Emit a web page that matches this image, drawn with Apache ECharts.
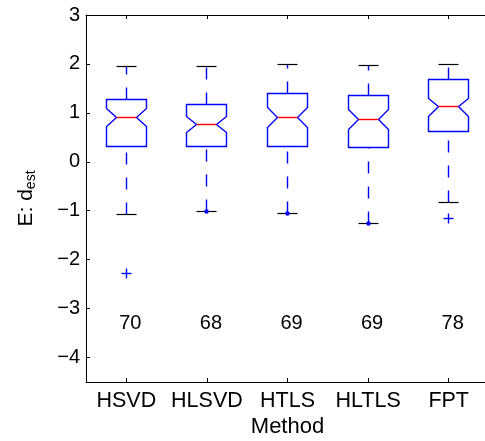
<!DOCTYPE html>
<html><head><meta charset="utf-8">
<script src="https://cdn.jsdelivr.net/npm/echarts@6/dist/echarts.min.js"></script>
<style>html,body{margin:0;padding:0;background:#fff}#c{width:485px;height:441px}</style>
</head><body><div id="c"></div>
<script>
const methods = ['HSVD', 'HLSVD', 'HTLS', 'HLTLS', 'FPT'];
const whiskerLow = [-1.067, -1.014, -1.048, -1.265, -0.837];
const q1 = [0.306, 0.306, 0.306, 0.300, 0.612];
const notchLow = [0.72, 0.606, 0.70, 0.66, 0.932];
const median = [0.90, 0.77, 0.905, 0.864, 1.122];
const notchHigh = [1.08, 0.925, 1.108, 1.067, 1.30];
const q3 = [1.28, 1.18, 1.394, 1.353, 1.68];
const whiskerHigh = [1.945, 1.945, 1.986, 1.96, 1.986];
const plusOutliers = [[0, -2.29], [4, -1.163]];
const dotOutliers = [[1, -1.014], [2, -1.048], [3, -1.265]];
const counts = [70, 68, 69, 69, 78];
const countY = -3.28;
const yMin = -4.5, yMax = 3;

const FONT = "'Liberation Sans', Arial, Helvetica, sans-serif";
const BLUE = '#0000ff';
const LW = 1.4;

const boxData = methods.map((m, i) => [i, whiskerLow[i], q1[i], notchLow[i], median[i], notchHigh[i], q3[i], whiskerHigh[i]]);
const outlierData = plusOutliers.map(p => [p[0], p[1], 0]).concat(dotOutliers.map(p => [p[0], p[1], 1]));
const countData = counts.map((c, i) => [i, countY, c]);

const sn = v => Math.round(v - 0.5) + 0.5;

function renderBox(params, api) {
  const i = api.value(0);
  const band = api.size([1, 0])[0];
  const cx = sn(api.coord([i, 0])[0]);
  const y = k => sn(api.coord([i, api.value(k)])[1]);
  const yWL = y(1), yQ1 = y(2), yNL = y(3), yMed = y(4), yNH = y(5), yQ3 = y(6), yWH = y(7);
  const hw = Math.round(band * 0.25), nw = Math.round(band * 0.125);
  const L = cx - hw, R = cx + hw, Li = cx - nw, Ri = cx + nw;
  const dash = {stroke: BLUE, lineWidth: LW, lineDash: [12, 13], fill: null};
  return {type: 'group', children: [
    {type: 'line', shape: {x1: cx, y1: yWL, x2: cx, y2: yQ1}, style: dash},
    {type: 'line', shape: {x1: cx, y1: yQ3, x2: cx, y2: yWH}, style: dash},
    {type: 'line', shape: {x1: cx - nw, y1: yWL, x2: cx + nw, y2: yWL}, style: {stroke: '#000', lineWidth: 1.2}},
    {type: 'line', shape: {x1: cx - nw, y1: yWH, x2: cx + nw, y2: yWH}, style: {stroke: '#000', lineWidth: 1.2}},
    {type: 'polygon', shape: {points: [[L, yQ1], [L, yNL], [Li, yMed], [L, yNH], [L, yQ3], [R, yQ3], [R, yNH], [Ri, yMed], [R, yNL], [R, yQ1]]},
      style: {fill: null, stroke: BLUE, lineWidth: LW}},
    {type: 'line', shape: {x1: Li, y1: yMed, x2: Ri, y2: yMed}, style: {stroke: '#ff0000', lineWidth: LW}}
  ]};
}

function renderOutlier(params, api) {
  const p = api.coord([api.value(0), api.value(1)]);
  const x = sn(p[0]), yy = sn(p[1]);
  if (api.value(2) === 0) {
    const s = 5;
    return {type: 'group', children: [
      {type: 'line', shape: {x1: x - s, y1: yy, x2: x + s, y2: yy}, style: {stroke: BLUE, lineWidth: LW}},
      {type: 'line', shape: {x1: x, y1: yy - s, x2: x, y2: yy + s}, style: {stroke: BLUE, lineWidth: LW}}
    ]};
  }
  return {type: 'circle', shape: {cx: x, cy: yy, r: 2.2}, style: {fill: BLUE}};
}

const chart = echarts.init(document.getElementById('c'), null, {renderer: 'canvas'});
const axisLineStyle = {color: '#000', width: 1};
chart.setOption({
  animation: false,
  backgroundColor: '#fff',
  grid: {left: 86, top: 15, width: 403, height: 367, show: false, containLabel: false, outerBoundsMode: 'none'},
  xAxis: [{
    type: 'category', data: methods, position: 'bottom', boundaryGap: true,
    axisLine: {show: true, onZero: false, lineStyle: axisLineStyle},
    axisTick: {show: true, inside: true, length: 4, alignWithLabel: true, lineStyle: axisLineStyle},
    axisLabel: {show: true, color: '#000', fontSize: 21.5, fontFamily: FONT, margin: 8, interval: 0},
    splitLine: {show: false},
    name: 'Method', nameLocation: 'middle', nameGap: 34, nameMoveOverlap: false,
    nameTextStyle: {color: '#000', fontSize: 22, fontFamily: FONT}
  }, {
    type: 'category', data: methods, position: 'top', boundaryGap: true,
    axisLine: {show: true, onZero: false, lineStyle: axisLineStyle},
    axisTick: {show: true, inside: true, length: 4, alignWithLabel: true, lineStyle: axisLineStyle},
    axisLabel: {show: false}, splitLine: {show: false}
  }],
  yAxis: [{
    type: 'value', min: yMin, max: yMax, splitNumber: 8, minInterval: 1, maxInterval: 1,
    axisLine: {show: true, onZero: false, lineStyle: axisLineStyle},
    axisTick: {show: true, inside: true, length: 4, lineStyle: axisLineStyle},
    axisLabel: {color: '#000', fontSize: 20, fontFamily: FONT, margin: 6,
      formatter: v => Number.isInteger(v) ? String(v).replace('-', '\u2212') : ''},
    splitLine: {show: false},
    name: '{a|E: d}{s|est}', nameLocation: 'middle', nameGap: 48, nameMoveOverlap: false,
    nameTextStyle: {color: '#000', fontFamily: FONT,
      rich: {
        a: {fontSize: 21, fontFamily: FONT, color: '#000', verticalAlign: 'top', lineHeight: 22},
        s: {fontSize: 14, fontFamily: FONT, color: '#000', verticalAlign: 'bottom', lineHeight: 14, padding: [12, 0, 0, 0]}
      }}
  }, {
    type: 'value', position: 'right', min: yMin, max: yMax, splitNumber: 8, minInterval: 1, maxInterval: 1,
    axisLine: {show: true, onZero: false, lineStyle: axisLineStyle}, axisTick: {show: false}, axisLabel: {show: false}, splitLine: {show: false}
  }],
  series: [{
    type: 'custom', renderItem: renderBox, data: boxData,
    encode: {x: 0, y: [1, 2, 3, 4, 5, 6, 7]}, z: 3, silent: true
  }, {
    type: 'custom', renderItem: renderOutlier, data: outlierData,
    encode: {x: 0, y: 1}, z: 4, silent: true
  }, {
    type: 'scatter', data: countData, symbolSize: 0, silent: true,
    itemStyle: {opacity: 1},
    label: {show: true, position: 'inside', offset: [4, 1], color: '#000', fontSize: 20, fontFamily: FONT,
      textBorderWidth: 0, opacity: 1, formatter: p => String(counts[p.dataIndex])}
  }]
});
</script>
</body></html>
